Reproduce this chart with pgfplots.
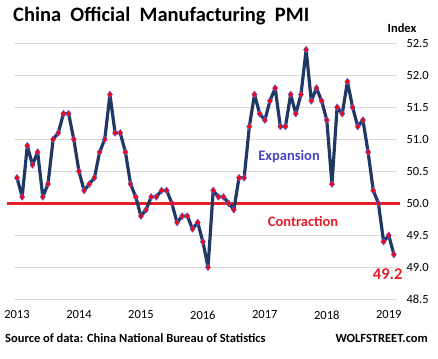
\documentclass[border=0pt]{standalone}
\usepackage{pgfplots}
\pgfplotsset{compat=1.18}
\usepackage{fontspec}
\setmainfont{Carlito}
\definecolor{navy}{RGB}{31,56,100}
\definecolor{pmired}{RGB}{230,30,40}
\definecolor{expblue}{RGB}{70,70,200}
\definecolor{markblue}{RGB}{90,90,220}
\begin{document}
\begin{tikzpicture}[x=1pt,y=1pt]
\useasboundingbox (0,0) rectangle (438,358);
\begin{axis}[at={(14pt,58.7pt)}, anchor=south west, scale only axis,
  width=383pt, height=256pt,
  xmin=-0.58, xmax=73.6, ymin=48.5, ymax=52.5,
  axis line style={draw=none}, major tick length=0pt,
  xtick={0,12,...,72}, xticklabels={2013,2014,2015,2016,2017,2018,2019},
  ytick={48.5,49,...,52.5}, yticklabel pos=right,
  ymajorgrids, grid style={draw=black!15, line width=0.8pt},
  yticklabel style={/pgf/number format/.cd, fixed, fixed zerofill, precision=1, /tikz/.cd, anchor=west, xshift=6pt},
  xticklabel style={yshift=-8pt},
  /pgf/number format/assume math mode=true,
  tick label style={font=\fontsize{12.5}{14}\selectfont, text=black},
  clip=false]
\addplot[pmired, line width=2.7pt] coordinates {(-1.94,50) (74.2,50)};
\addplot[navy, line width=3.2pt, line join=round, line cap=round, mark=diamond*, mark size=3.4pt,
  mark options={fill=red, draw=markblue, line width=0.5pt, line join=miter, mark options={}}] coordinates {
(0,50.4) (1,50.1) (2,50.9) (3,50.6) (4,50.8) (5,50.1) (6,50.3) (7,51.0) (8,51.1) (9,51.4) (10,51.4) (11,51.0)
(12,50.5) (13,50.2) (14,50.3) (15,50.4) (16,50.8) (17,51.0) (18,51.7) (19,51.1) (20,51.1) (21,50.8) (22,50.3) (23,50.1)
(24,49.8) (25,49.9) (26,50.1) (27,50.1) (28,50.2) (29,50.2) (30,50.0) (31,49.7) (32,49.8) (33,49.8) (34,49.6) (35,49.7)
(36,49.4) (37,49.0) (38,50.2) (39,50.1) (40,50.1) (41,50.0) (42,49.9) (43,50.4) (44,50.4) (45,51.2) (46,51.7) (47,51.4)
(48,51.3) (49,51.6) (50,51.8) (51,51.2) (52,51.2) (53,51.7) (54,51.4) (55,51.7) (56,52.4) (57,51.6) (58,51.8) (59,51.6)
(60,51.3) (61,50.3) (62,51.5) (63,51.4) (64,51.9) (65,51.5) (66,51.2) (67,51.3) (68,50.8) (69,50.2) (70,50.0) (71,49.4)
(72,49.5) (73,49.2)};
\node[text=expblue, font=\bfseries\fontsize{14.5}{16}\selectfont] at (axis cs:52.7,50.73) {Expansion};
\node[text=pmired, font=\bfseries\fontsize{14.5}{16}\selectfont] at (axis cs:55.4,49.71) {Contraction};
\node[text=pmired, font=\bfseries\fontsize{16.5}{18}\selectfont] at (axis cs:71.8,48.89) {49.2};
\end{axis}
\node[inner sep=0, font=\fontsize{12.5}{14}\selectfont\bfseries] at (402,330) {Index};
\node[inner sep=0, anchor=west, font=\fontsize{20.5}{24}\selectfont\bfseries] at (13,342) {China\ \ Official\ \ Manufacturing\ \ PMI};
\node[inner sep=0, anchor=west, font=\fontsize{12.5}{14}\selectfont\bfseries] at (5,20) {Source of data: China National Bureau of Statistics};
\node[inner sep=0, anchor=east, font=\fontsize{12.5}{14}\selectfont\bfseries] at (428,20) {WOLFSTREET.com};
\end{tikzpicture}
\end{document}
